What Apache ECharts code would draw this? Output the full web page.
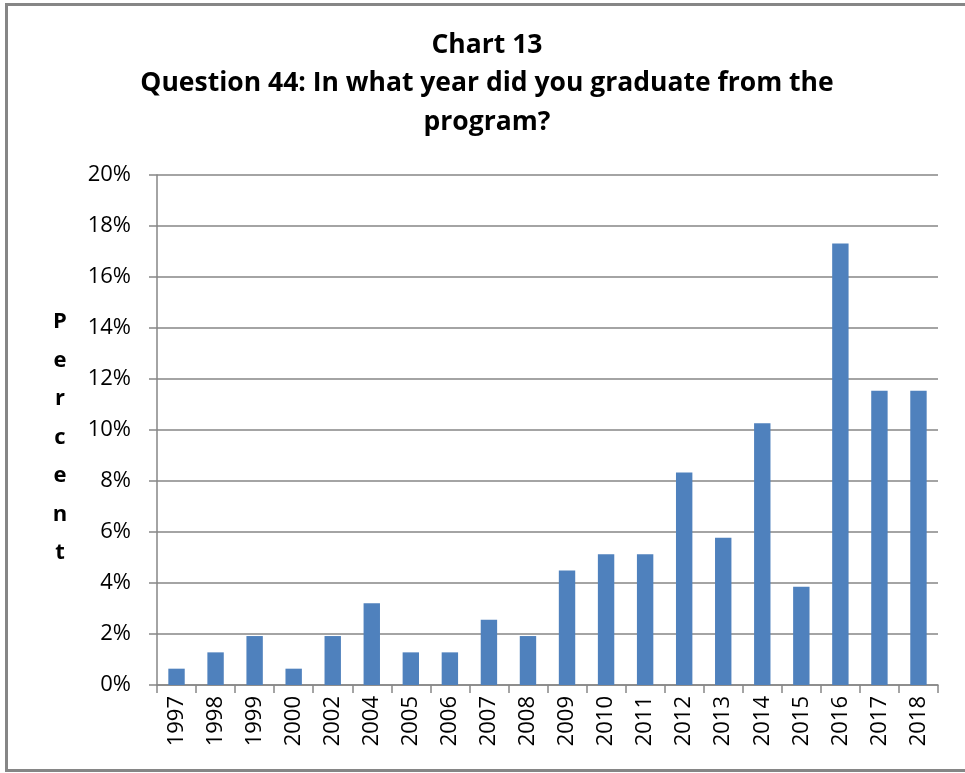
<!DOCTYPE html>
<html><head><meta charset="utf-8">
<script src="https://cdn.jsdelivr.net/npm/echarts@6/dist/echarts.min.js"></script>
<style>html,body{margin:0;padding:0;background:#fff}#c{width:965px;height:773px}</style>
</head><body><div id="c"></div>
<script>
const categories = ['1997','1998','1999','2000','2002','2004','2005','2006','2007','2008','2009','2010','2011','2012','2013','2014','2015','2016','2017','2018'];
const percentValues = [0.64,1.28,1.92,0.64,1.92,3.21,1.28,1.28,2.56,1.92,4.49,5.13,5.13,8.33,5.77,10.26,3.85,17.31,11.54,11.54];
const yTicks = [0,2,4,6,8,10,12,14,16,18,20];
const titleLines = ['Chart 13','Question 44: In what year did you graduate from the','program?'];
const yAxisLabel = 'Percent';

const chart = echarts.init(document.getElementById('c'));
const font = '"Open Sans", "Liberation Sans", sans-serif';
const graphics = [
  {type:'rect', shape:{x:6.5,y:4.5,width:970,height:766}, style:{fill:'none',stroke:'#868686',lineWidth:3}, silent:true}
];
titleLines.forEach((t,i)=>{
  graphics.push({type:'text', x:487, y:45+i*38.5, style:{text:t, fontFamily:font, fontWeight:'bold', fontSize:26.5, fill:'#000', textAlign:'center', textVerticalAlign:'middle'}});
});
yAxisLabel.split('').forEach((ch,i)=>{
  graphics.push({type:'text', x:60, y:322+i*38.5, style:{text:ch, fontFamily:font, fontWeight:'bold', fontSize:22, fill:'#000', textAlign:'center', textVerticalAlign:'middle'}});
});
chart.setOption({
  animation:false,
  grid:{left:157, right:27, top:175, bottom:88, containLabel:false},
  xAxis:{type:'category', data:categories,
    axisLine:{lineStyle:{color:'#868686', width:1.5}},
    axisTick:{show:true, length:8, alignWithLabel:false, lineStyle:{color:'#868686', width:1.5}},
    axisLabel:{rotate:90, fontSize:22, fontFamily:font, color:'#000', margin:11}
  },
  yAxis:{type:'value', min:yTicks[0], max:yTicks[yTicks.length-1], interval:2,
    axisLine:{show:true, lineStyle:{color:'#868686', width:1.5}},
    axisTick:{show:true, length:8, inside:false, lineStyle:{color:'#868686', width:1.5}},
    axisLabel:{formatter:v=>v+'%', fontSize:22, fontFamily:font, color:'#000', margin:26},
    splitLine:{show:true, lineStyle:{color:'#868686', width:1.5}}
  },
  series:[{type:'bar', data:percentValues, barCategoryGap:'58%', itemStyle:{color:'#4F81BD'}}],
  graphic:graphics
});
</script></body></html>
